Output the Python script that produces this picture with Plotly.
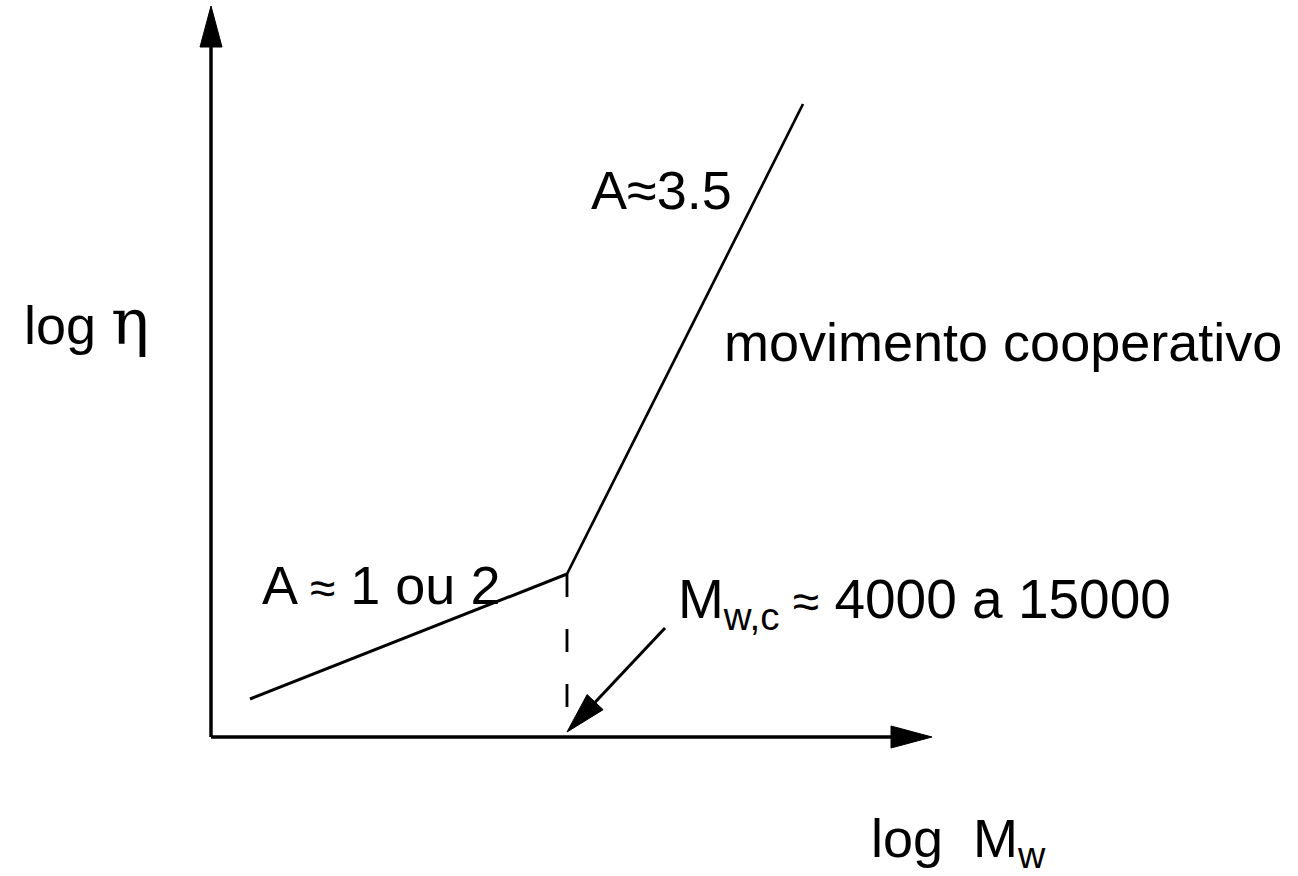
import plotly.graph_objects as go
import numpy as np

# ---- schematic data (log units; origin = axis corner) ----
low_regime_logMw = [0.39, 3.56]
low_regime_logEta = [0.38, 1.63]
high_regime_logMw = [3.56, 5.92]
high_regime_logEta = [1.63, 6.33]
critical_logMw = [3.56, 3.56]
critical_logEta = [1.63, 0.0]
axis_x_end = 7.21
axis_y_end = 7.31
pointer_tail = [4.54, 1.09]
pointer_tip = [3.56, 0.05]

PX = 100.0  # pixels per data unit
W, H = 1298, 876
ORIGIN_PX = (211, 737)
x_range = [-ORIGIN_PX[0] / PX, (W - ORIGIN_PX[0]) / PX]
y_range = [-(H - ORIGIN_PX[1]) / PX, ORIGIN_PX[1] / PX]

FONT = "Liberation Sans, Arial, Helvetica, sans-serif"
HEAD_LEN = 41 / PX
HEAD_W = 22 / PX


def head_path(tail, tip, length=HEAD_LEN, width=HEAD_W):
    d = np.array(tip, float) - np.array(tail, float)
    d /= np.linalg.norm(d)
    n = np.array([-d[1], d[0]])
    base = np.array(tip) - d * length
    p1 = base + n * width / 2
    p2 = base - n * width / 2
    return f"M{tip[0]},{tip[1]} L{p1[0]},{p1[1]} L{p2[0]},{p2[1]} Z", base


fig = go.Figure()

shapes = []
px_, bx = head_path((0, 0), (axis_x_end, 0))
py_, by = head_path((0, 0), (0, axis_y_end))
ptr_path, ptr_base = head_path(pointer_tail, pointer_tip)
for path in (px_, py_, ptr_path):
    shapes.append(dict(type="path", path=path, fillcolor="black",
                       line=dict(color="black", width=1), layer="above"))

fig.add_trace(go.Scatter(x=[0, bx[0]], y=[0, 0], mode="lines",
                         line=dict(color="black", width=3.5), hoverinfo="skip"))
fig.add_trace(go.Scatter(x=[0, 0], y=[0, by[1]], mode="lines",
                         line=dict(color="black", width=3.5), hoverinfo="skip"))
fig.add_trace(go.Scatter(x=low_regime_logMw, y=low_regime_logEta, mode="lines",
                         line=dict(color="black", width=3), hoverinfo="skip"))
fig.add_trace(go.Scatter(x=high_regime_logMw, y=high_regime_logEta, mode="lines",
                         line=dict(color="black", width=2.7), hoverinfo="skip"))
fig.add_trace(go.Scatter(x=critical_logMw, y=critical_logEta, mode="lines",
                         line=dict(color="black", width=2.8, dash="23px,32px"),
                         hoverinfo="skip"))
fig.add_trace(go.Scatter(x=[pointer_tail[0], ptr_base[0]], y=[pointer_tail[1], ptr_base[1]],
                         mode="lines", line=dict(color="black", width=3), hoverinfo="skip"))


def lbl(x, y, text, size=54):
    return dict(x=x, y=y, xref="x", yref="y", text=text, showarrow=False,
                xanchor="left", yanchor="middle",
                font=dict(family=FONT, size=size, color="black"))


annotations = [
    lbl(-1.89, 4.15, "log <span style='font-family:DejaVu Serif;font-size:64px'>η</span>"),
    lbl(3.78, 5.47, "A≈3.5"),
    lbl(5.11, 3.95, "movimento cooperativo"),
    lbl(0.49, 1.52, "A <span style='font-size:46px'>≈</span> 1 ou 2"),
    lbl(4.65, 1.34, "M<sub>w,c</sub><span style='font-size:48px'> ≈</span> 4000 a 15000", size=55),
    lbl(6.58, -1.05, "log  M<sub>w</sub>"),
]

fig.update_layout(
    width=W, height=H,
    margin=dict(l=0, r=0, t=0, b=0),
    paper_bgcolor="white", plot_bgcolor="white",
    showlegend=False,
    xaxis=dict(range=x_range, visible=False, fixedrange=True),
    yaxis=dict(range=y_range, visible=False, fixedrange=True),
    shapes=shapes,
    annotations=annotations,
)

fig.write_html("out.html")
